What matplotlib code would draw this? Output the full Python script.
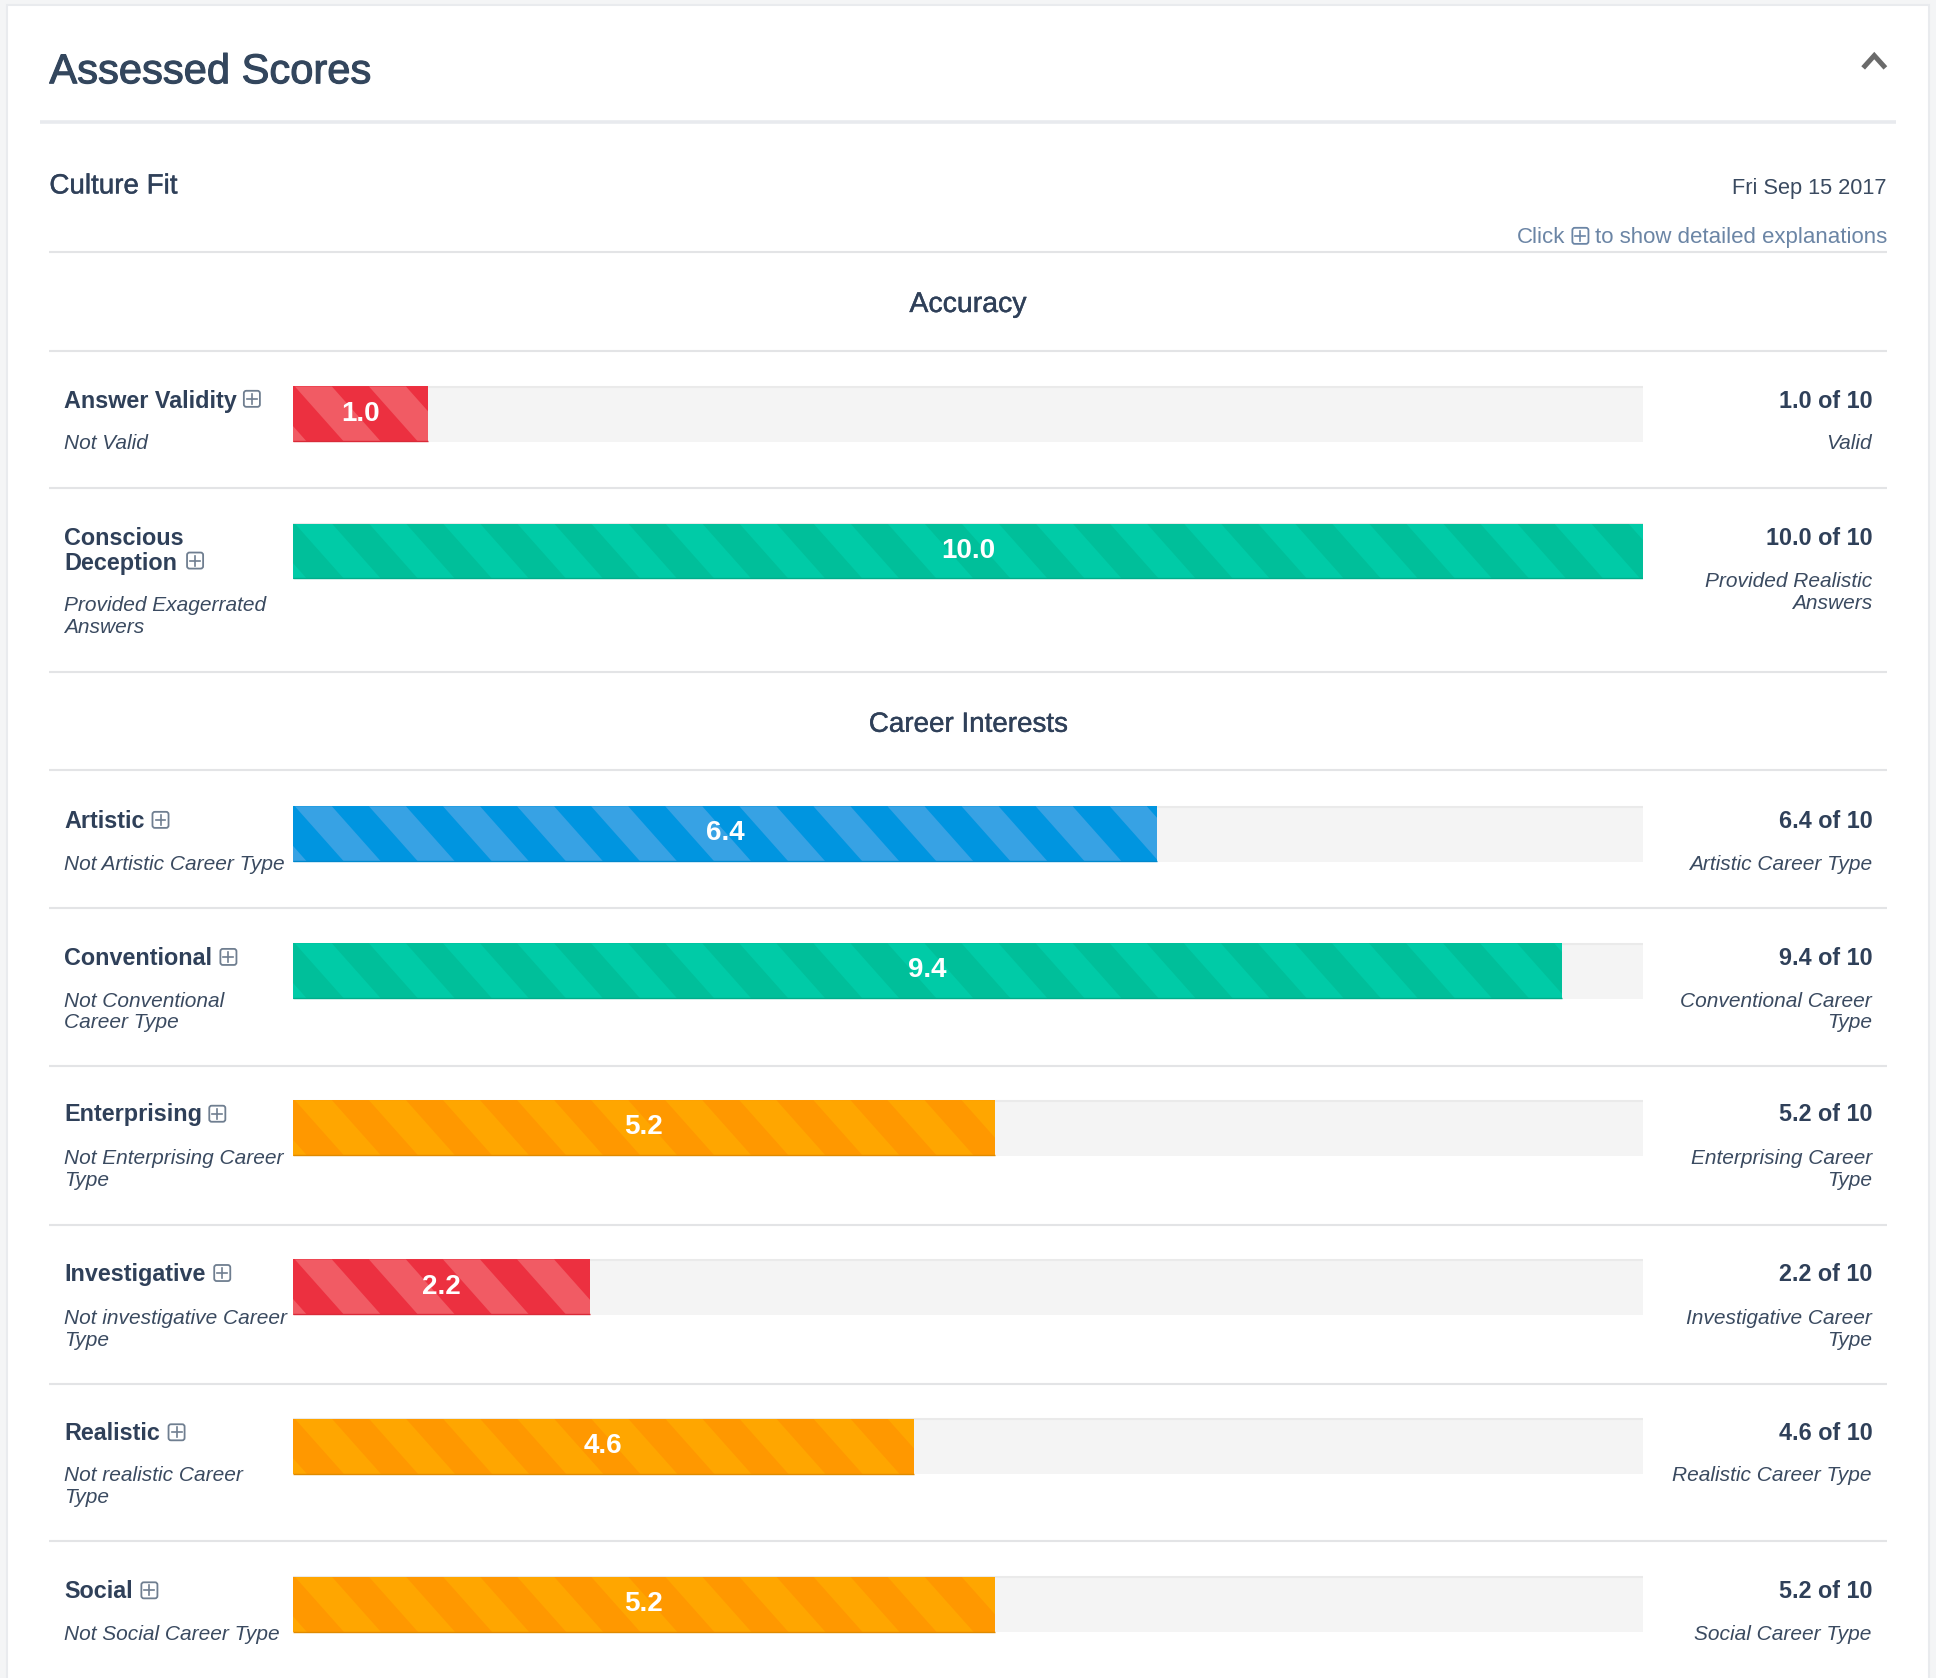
import matplotlib
matplotlib.use("Agg")
import matplotlib.pyplot as plt
import matplotlib.patheffects as pe
from matplotlib.patches import Rectangle, FancyBboxPatch

# --- datos de la tabla ---
names = ["Answer Validity", "Conscious\nDeception", "Artistic", "Conventional",
         "Enterprising", "Investigative", "Realistic", "Social"]
scores = [1.0, 10.0, 6.4, 9.4, 5.2, 2.2, 4.6, 5.2]
low_labels = ["Not Valid", "Provided Exagerrated\nAnswers", "Not Artistic Career Type",
              "Not Conventional\nCareer Type", "Not Enterprising Career\nType",
              "Not investigative Career\nType", "Not realistic Career\nType",
              "Not Social Career Type"]
high_labels = ["Valid", "Provided Realistic\nAnswers", "Artistic Career Type",
               "Conventional Career\nType", "Enterprising Career\nType",
               "Investigative Career\nType", "Realistic Career Type", "Social Career Type"]
bar_colors = ["red", "green", "blue", "green", "orange", "red", "orange", "orange"]

# --- layout, in units of the 1568 wide view ---
W, H = 1568, 1359
DPI = 100
BAR_L, BAR_R = 237, 1331
BAR_H = 45
bar_tops = [313, 424, 653, 764, 891, 1020, 1149, 1277]
name_ys = [325, 436, 665, 776, 903, 1032, 1161, 1289]
low_ys = [359.5, 490.5, 700, 811, 938.5, 1068, 1195, 1324]
high_ys = [359.5, 471, 700, 811, 938.5, 1068, 1195, 1324]
icon_xs = [204, 158, 130, 185, 176, 180, 143, 121]
icon_ys = [323, 454, 664, 775, 902, 1031, 1160, 1288]
rules = [204, 284, 395, 544, 624, 735, 863, 992, 1121, 1248]

PALETTE = {
    "red": ("#EC3040", "#F15B64", "#D92A38"),
    "green": ("#00BF9A", "#00CBA7", "#00AD8B"),
    "blue": ("#0095E0", "#37A2E4", "#0088CC"),
    "orange": ("#FF9800", "#FFA600", "#E08A00"),
}
STRIPE_PERIOD = 60
STRIPE_SHIFT = 40
STRIPE_START = 1.8

DARK = "#2F4059"
TEXT = "#3A4A60"
LINK = "#6B85A5"
ICON = "#6F7E90"

plt.rcParams["font.family"] = ["Liberation Sans", "DejaVu Sans"]

fig = plt.figure(figsize=(1936 / DPI, 1678 / DPI), dpi=DPI, facecolor="#F4F5F6")
ax = fig.add_axes([0, 0, 1, 1])
ax.set_xlim(0, W)
ax.set_ylim(H, 0)
ax.axis("off")

# Tarjeta blanca y separadores
ax.add_patch(Rectangle((6, 4), 1556, H, facecolor="white", edgecolor="#E9EBEE", lw=1.5, zorder=0))
ax.plot([32, 1536], [99, 99], color="#E8EAEE", lw=2.6, solid_capstyle="butt")
for y in rules:
    ax.plot([40, 1528], [y, y], color="#E3E4E6", lw=1.5, solid_capstyle="butt")


def plus_icon(x, y, color=ICON):
    ax.add_patch(FancyBboxPatch((x - 6.5, y - 6.5), 13, 13, boxstyle="round,pad=0,rounding_size=2",
                                facecolor="none", edgecolor=color, lw=1.3, zorder=3))
    ax.plot([x - 4, x + 4], [y, y], color=color, lw=1.2, zorder=3)
    ax.plot([x, x], [y - 4, y + 4], color=color, lw=1.2, zorder=3)


# Simula el peso medio de la fuente original
def medium_text(x, y, s, size, color, ha="left", stroke=0.3):
    t = ax.text(x, y, s, fontsize=size, color=color, va="center", ha=ha)
    t.set_path_effects([pe.withStroke(linewidth=stroke, foreground=color)])
    return t


# Cabecera
medium_text(40, 58.5, "Assessed Scores", 30, "#33465D", stroke=0.8)
ax.plot([1509, 1518, 1527], [55, 45, 55], color="#6A6A6A", lw=3.6, solid_joinstyle="miter",
        solid_capstyle="butt")
medium_text(40, 151, "Culture Fit", 20, DARK)
ax.text(1528, 152.5, "Fri Sep 15 2017", fontsize=15.7, color=TEXT, va="center", ha="right")
ax.text(1528.5, 192, "to show detailed explanations", fontsize=16, color=LINK, va="center", ha="right")
ax.text(1268, 192, "Click", fontsize=16, color=LINK, va="center", ha="right")
plus_icon(1280, 191, LINK)
medium_text(784, 247, "Accuracy", 20.5, DARK, ha="center")
medium_text(784, 587, "Career Interests", 20, DARK, ha="center")

# Eje de las barras: x es la puntuación 0-10
bx = fig.add_axes([BAR_L / W, 0, (BAR_R - BAR_L) / W, 1])
bx.set_xlim(0, 10)
bx.set_ylim(H, 0)
bx.axis("off")
bx.patch.set_alpha(0)
units_per_score = (BAR_R - BAR_L) / 10


def sub_lines(x, y, label, ha):
    for i, line in enumerate(label.split("\n")):
        ax.text(x, y + i * 17.5, line, fontsize=15, style="italic", color=TEXT, va="center", ha=ha)


for i, score in enumerate(scores):
    top = bar_tops[i]
    mid = top + BAR_H / 2
    dark, light, edge = PALETTE[bar_colors[i]]

    bx.barh(mid, 10, height=BAR_H, color="#F4F4F4", zorder=1)
    bx.plot([0, 10], [top + 0.5, top + 0.5], color="#EAEAEA", lw=1.5, zorder=1.5)
    bar = bx.barh(mid, score, height=BAR_H, color=dark, zorder=2)[0]

    # Franjas diagonales recortadas a la barra
    k = -1
    while STRIPE_START + k * STRIPE_PERIOD < score * units_per_score:
        x0 = (STRIPE_START + k * STRIPE_PERIOD) / units_per_score
        dx = STRIPE_PERIOD / 2 / units_per_score
        sh = STRIPE_SHIFT / units_per_score
        poly = bx.fill([x0, x0 + dx, x0 + dx + sh, x0 + sh], [top, top, top + BAR_H, top + BAR_H],
                       color=light, lw=0, zorder=2.5)[0]
        poly.set_clip_path(bar)
        k += 1
    bx.plot([0, score], [top + BAR_H - 0.5] * 2, color=edge, lw=1.0, zorder=2.6, solid_capstyle="butt")
    bx.text(score / 2, top + 22, f"{score:.1f}", fontsize=20, fontweight="bold", color="white",
            va="center", ha="center", zorder=4)

    # Textos de la fila
    for j, line in enumerate(names[i].split("\n")):
        ax.text(52, name_ys[i] + j * 20, line, fontsize=16.8, fontweight="bold", color=DARK,
                va="center", ha="left")
    plus_icon(icon_xs[i], icon_ys[i])
    sub_lines(52, low_ys[i], low_labels[i], "left")
    ax.text(1516.5, name_ys[i], f"{score:.1f} of 10", fontsize=16.8, fontweight="bold", color=DARK,
            va="center", ha="right")
    sub_lines(1516, high_ys[i], high_labels[i], "right")

fig.savefig("out.png", dpi=DPI, facecolor=fig.get_facecolor())
